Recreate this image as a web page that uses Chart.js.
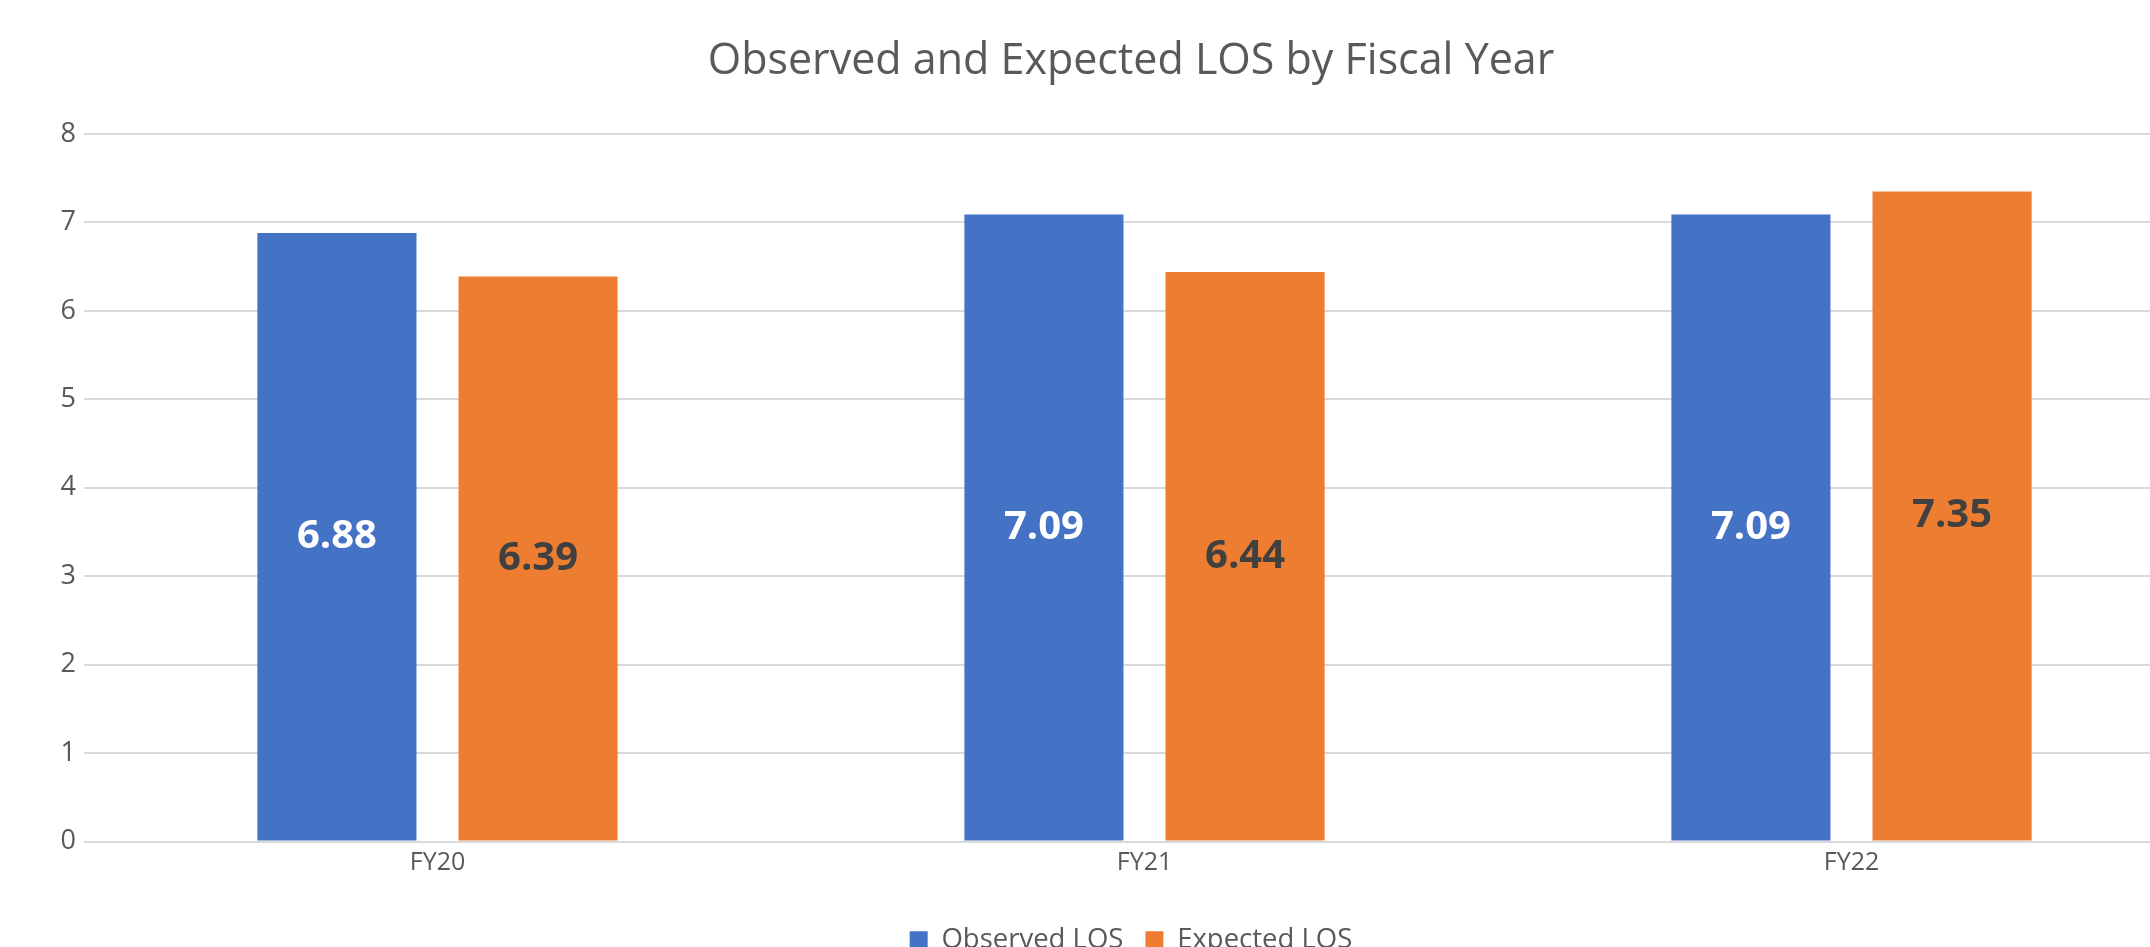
<!DOCTYPE html>
<html>
<head>
<meta charset="utf-8">
<script src="https://cdn.jsdelivr.net/npm/chart.js@4/dist/chart.umd.min.js"></script>
<style>
    html, body { margin: 0; padding: 0; background: #fff; overflow: hidden; }
    #wrap { position: absolute; left: 0; top: 0; width: 2262px; height: 964px; }
</style>
</head>
<body>
<div id="wrap"><canvas id="losChart" width="2262" height="964"></canvas></div>
<script>
const years = ['FY20', 'FY21', 'FY22'];
const observedLos = [6.88, 7.09, 7.09];
const expectedLos = [6.39, 6.44, 7.35];
const yTicks = [0, 1, 2, 3, 4, 5, 6, 7, 8];

const labelColors = ['#ffffff', '#404040'];

// values written in the middle of each bar
const barValues = {
    id: 'barValues',
    afterDatasetsDraw(chart) {
        const ctx = chart.ctx;
        ctx.save();
        ctx.font = 'bold 40px "Open Sans"';
        ctx.textAlign = 'center';
        ctx.textBaseline = 'middle';
        chart.data.datasets.forEach((ds, i) => {
            const meta = chart.getDatasetMeta(i);
            ctx.fillStyle = labelColors[i];
            meta.data.forEach((bar, j) => {
                const mid = (bar.y + bar.base) / 2;
                ctx.fillText(ds.data[j].toFixed(2), bar.x, mid);
            });
        });
        ctx.restore();
    }
};

new Chart(document.getElementById('losChart').getContext('2d'), {
    type: 'bar',
    data: {
        labels: years,
        datasets: [
            {
                label: 'Observed LOS',
                data: observedLos,
                backgroundColor: '#4472C4',
                borderWidth: 0,
                categoryPercentage: 0.569,
                barPercentage: 0.791
            },
            {
                label: 'Expected LOS',
                data: expectedLos,
                backgroundColor: '#ED7D31',
                borderWidth: 0,
                categoryPercentage: 0.569,
                barPercentage: 0.791
            }
        ]
    },
    options: {
        responsive: false,
        animation: false,
        layout: { padding: { left: 57, right: 57, top: 0, bottom: 0 } },
        plugins: {
            title: {
                display: true,
                text: 'Observed and Expected LOS by Fiscal Year',
                color: '#595959',
                font: { family: '"Open Sans"', size: 43, weight: 'normal' },
                padding: { top: 36, bottom: 46.4 }
            },
            legend: {
                position: 'bottom',
                labels: {
                    color: '#595959',
                    font: { family: '"Open Sans"', size: 27.5 },
                    boxWidth: 18,
                    boxHeight: 18,
                    padding: 22
                }
            },
            tooltip: { enabled: false }
        },
        scales: {
            x: {
                grid: { display: false, drawTicks: false },
                border: { display: false },
                ticks: {
                    color: '#595959',
                    font: { family: '"Open Sans"', size: 25 },
                    padding: 6
                },
                afterFit: (axis) => { axis.height = 63; }
            },
            y: {
                min: 0,
                max: 8,
                afterBuildTicks: (axis) => { axis.ticks = yTicks.map(v => ({ value: v })); },
                grid: { color: '#d9d9d9', lineWidth: 2, drawTicks: false },
                border: { display: false },
                ticks: {
                    color: '#595959',
                    font: { family: '"Open Sans"', size: 27 },
                    padding: 8
                },
                afterFit: (axis) => { axis.width = 27; }
            }
        }
    },
    plugins: [barValues]
});
</script>
</body>
</html>
